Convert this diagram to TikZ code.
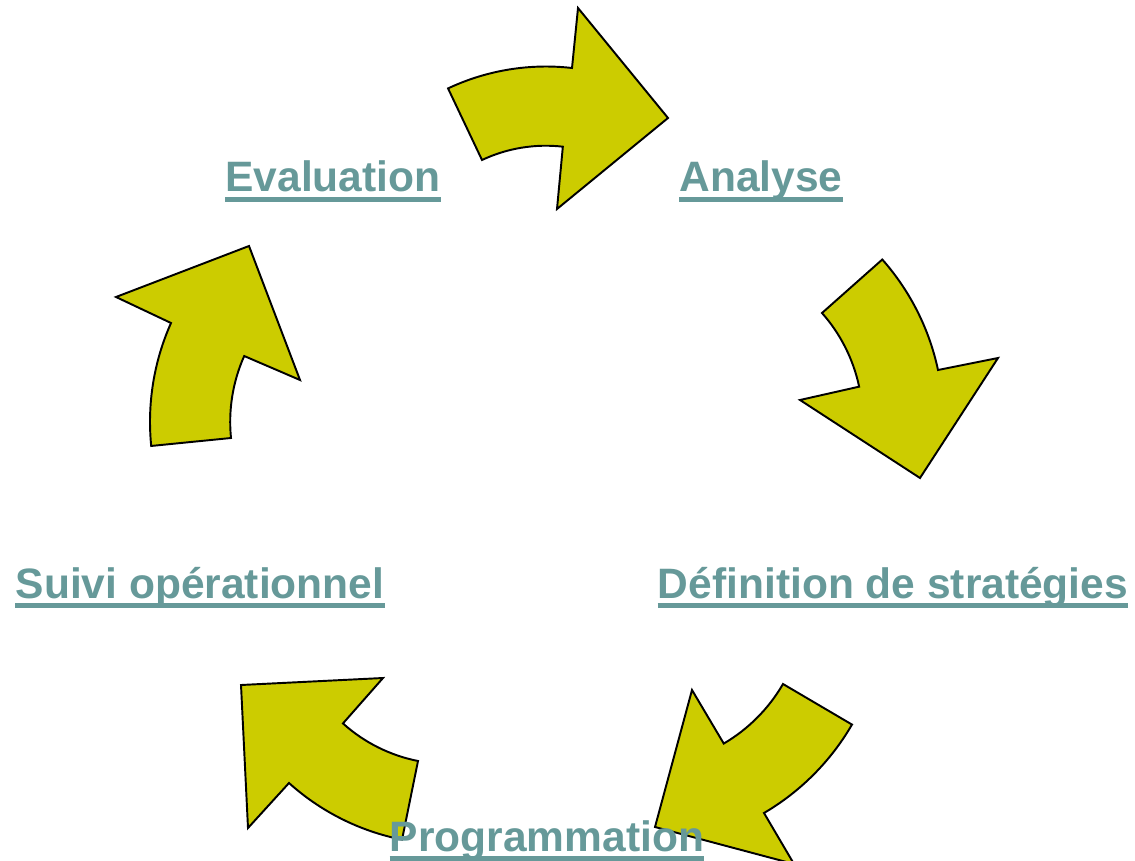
\documentclass[tikz,border=0pt]{standalone}
\usepackage{fontspec}
\setmainfont{Liberation Sans}
\definecolor{arrowfill}{HTML}{CCCC00}
\definecolor{stagecol}{HTML}{669999}

\begin{document}
\begin{tikzpicture}[x=0.02cm, y=-0.02cm,
    cyclearrow/.style={fill=arrowfill, draw=black, line width=1.1pt, line join=miter},
    stage/.style={text=stagecol, font=\bfseries\fontsize{24.2}{28}\selectfont,
        inner sep=0pt, anchor=base,
        append after command={([yshift=-4.3pt]\tikzlastnode.base west)
            edge[draw=stagecol, line width=2.4pt] ([yshift=-4.3pt]\tikzlastnode.base east)}}]
    \useasboundingbox (0,0) rectangle (1135,861);

    % the curved arrows (inner edge, head, outer edge)
    \draw[cyclearrow] (482,160) arc[start angle=-115.2, end angle=-83.5, radius=150]
        -- (557,209) -- (668,118) -- (578,8)
        -- (572,68) arc[start angle=-83.5, end angle=-115.2, radius=230] -- cycle;
    \draw[cyclearrow] (822,313) arc[start angle=-41.5, end angle=-12, radius=162]
        -- (800,400) -- (920,478) -- (998,358)
        -- (938,370) arc[start angle=-12, end angle=-41.5, radius=243] -- cycle;
    \draw[cyclearrow] (783,684) arc[start angle=30.1, end angle=59.6, radius=165]
        -- (692,690) -- (655,827) -- (794,864)
        -- (764,813) arc[start angle=59.6, end angle=30.1, radius=245] -- cycle;
    \draw[cyclearrow] (418,761) arc[start angle=101.2, end angle=132, radius=158]
        -- (383,678) -- (241,685) -- (248,828)
        -- (289,783) arc[start angle=132, end angle=101.2, radius=238] -- cycle;
    \draw[cyclearrow] (231,438) arc[start angle=174.3, end angle=204, radius=162]
        -- (300,380) -- (249,246) -- (116,297)
        -- (171,323) arc[start angle=204, end angle=174.3, radius=243] -- cycle;

    % the stages
    \node[stage] (eval) at (333,192) {Evaluation};
    \node[stage] (analyse) at (761,192) {Analyse};
    \node[stage] (defin) at (893,598) {Définition de stratégies};
    \node[stage] (prog) at (547,851) {Programmation};
    \node[stage] (suivi) at (200,598) {Suivi opérationnel};
\end{tikzpicture}
\end{document}
